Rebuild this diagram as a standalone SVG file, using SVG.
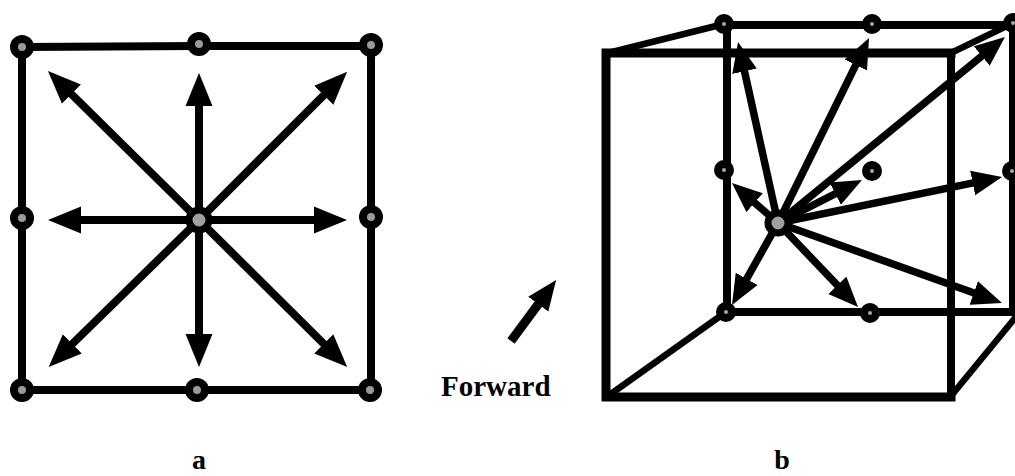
<svg xmlns="http://www.w3.org/2000/svg" width="1015" height="476" viewBox="0 0 1015 476">
<style>
.edge{fill:none;stroke:#000;stroke-linecap:square}
.a{stroke-width:8}
.f{stroke-width:9}
.b{stroke-width:6.5}
.arr{stroke:#000;fill:none;stroke-width:8}
.arr-a{marker-end:url(#headA)}
.arr-b{marker-end:url(#headB);stroke-width:7.5}
.node{fill:#9a9a9a;stroke:#000;stroke-width:8}
.sm{fill:#a8a8a8;stroke:#000;stroke-width:8}
.hub{fill:#a0a0a0;stroke:#000;stroke-width:7}
text{font-family:"Liberation Serif","Times New Roman",serif;font-weight:bold;fill:#000}
</style>
<defs>
<marker id="headA" markerUnits="userSpaceOnUse" markerWidth="36" markerHeight="30" refX="13" refY="15" orient="auto"><path d="M0,1.500 L33,15 L0,28.500 Z" fill="#000"/></marker>
<marker id="headB" markerUnits="userSpaceOnUse" markerWidth="32" markerHeight="26" refX="13" refY="13" orient="auto"><path d="M0,0.500 L30,13 L0,25.500 Z" fill="#000"/></marker>
</defs>
<rect width="1015" height="476" fill="#fff"/>
<g id="connectors">
<path class="edge a" d="M22,47 L199,46 L371,46 L371,390 L197,390 L22,390 Z"/>
<g id="cube-back">
<path class="edge a" d="M727,25 L1015,25 M727,25 L727,312 L1015,312 M1013,25 L1013,312"/>
<path class="edge b" d="M608,53 L724,24 M951,53 L1013,23 M608,396 L726,312 M951,396 L1015,318"/>
</g>
<path class="edge f" d="M606,53 L951,53 M606,53 L606,397 L951,397" />
<path class="edge a" d="M951,53 L951,397"/>
<line class="arr arr-a" x1="199" y1="220" x2="199" y2="93"/>
<line class="arr arr-a" x1="199" y1="220" x2="62.2" y2="85"/>
<line class="arr arr-a" x1="199" y1="220" x2="333" y2="86"/>
<line class="arr arr-a" x1="199" y1="220" x2="68" y2="220"/>
<line class="arr arr-a" x1="199" y1="220" x2="327" y2="220"/>
<line class="arr arr-a" x1="199" y1="220" x2="63" y2="353"/>
<line class="arr arr-a" x1="199" y1="220" x2="199" y2="347"/>
<line class="arr arr-a" x1="199" y1="220" x2="333" y2="353"/>
<line class="arr arr-b" x1="778" y1="223" x2="741.7" y2="58.6"/>
<line class="arr arr-b" x1="778" y1="223" x2="861.5" y2="53.3"/>
<line class="arr arr-b" x1="778" y1="223" x2="991.8" y2="47.8"/>
<line class="arr arr-b" x1="778" y1="223" x2="985.4" y2="180.4"/>
<line class="arr arr-b" x1="778" y1="223" x2="986" y2="297.3"/>
<line class="arr arr-b" x1="778" y1="223" x2="846.3" y2="294.7"/>
<line class="arr arr-b" x1="778" y1="223" x2="740.3" y2="290.2"/>
<line class="arr arr-b" x1="778" y1="223" x2="744.8" y2="194.2"/>
<line class="arr arr-b" x1="778" y1="223" x2="846.8" y2="187.8"/>
<line class="arr arr-b" style="stroke-width:9" x1="511" y1="341" x2="546" y2="293.7"/>
</g>
<g id="a-tl"><circle class="node" cx="22" cy="47" r="8"/></g>
<g id="a-t"><circle class="node" cx="199" cy="44" r="8"/></g>
<g id="a-tr"><circle class="node" cx="371" cy="45" r="8"/></g>
<g id="a-l"><circle class="node" cx="22" cy="218" r="8"/></g>
<g id="a-r"><circle class="node" cx="371" cy="217" r="8"/></g>
<g id="a-bl"><circle class="node" cx="22" cy="390" r="8"/></g>
<g id="a-b"><circle class="node" cx="197" cy="390" r="8"/></g>
<g id="a-br"><circle class="node" cx="370" cy="390" r="8"/></g>
<g id="a-c"><circle class="hub" cx="199" cy="220" r="10"/></g>
<g id="b-tl"><circle class="sm" cx="724" cy="24" r="6"/></g>
<g id="b-t"><circle class="sm" cx="872" cy="24" r="6"/></g>
<g id="b-tr"><circle class="sm" cx="1013" cy="23" r="6"/></g>
<g id="b-l"><circle class="sm" cx="724" cy="170" r="6"/></g>
<g id="b-m"><circle class="sm" cx="872" cy="171" r="6"/></g>
<g id="b-r"><circle class="sm" cx="1012" cy="171" r="6"/></g>
<g id="b-bl"><circle class="sm" cx="726" cy="312" r="6"/></g>
<g id="b-b"><circle class="sm" cx="870" cy="313" r="6"/></g>
<g id="b-c"><circle class="hub" cx="778" cy="223" r="10"/></g>
<text x="441" y="396" font-size="29">Forward</text>
<text x="199" y="469" font-size="28" text-anchor="middle">a</text>
<text x="782" y="469" font-size="28" text-anchor="middle">b</text>
</svg>
